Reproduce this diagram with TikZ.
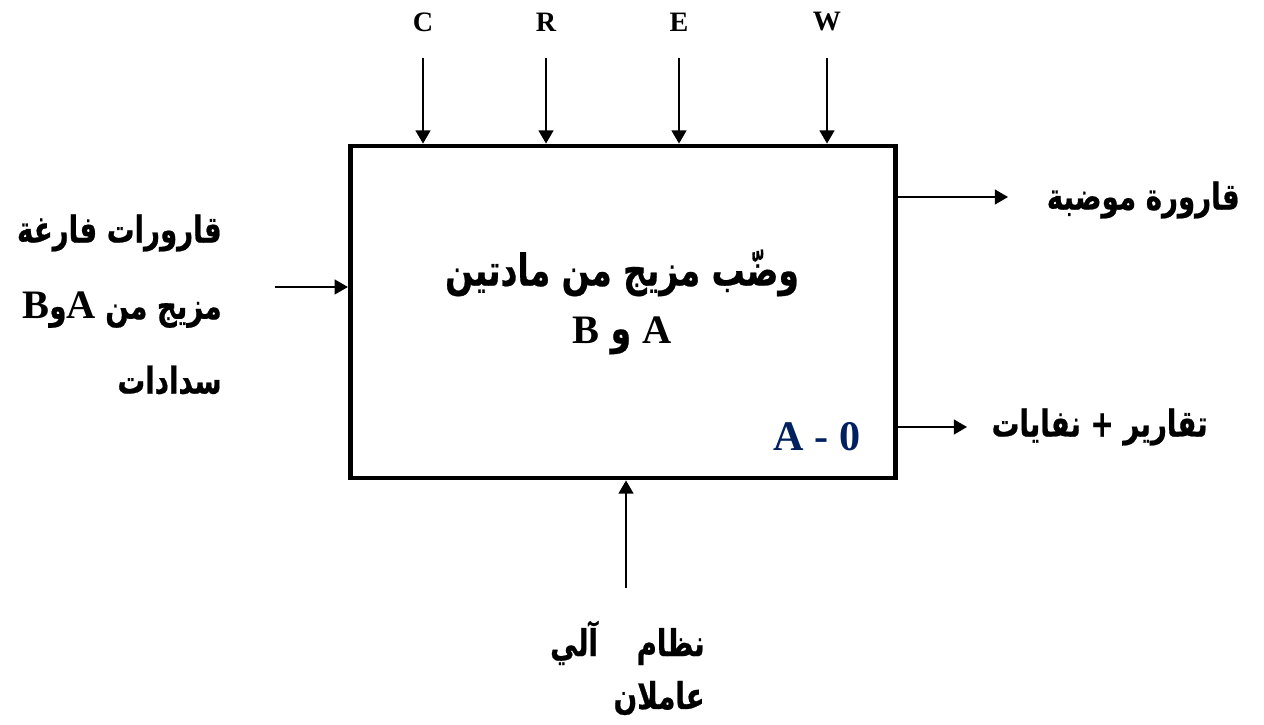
\documentclass[tikz,border=0pt]{standalone}
\usepackage{fontspec}
\setmainfont{Liberation Serif}
\newfontfamily\arabicfont[Script=Arabic,FakeStretch=0.75,BoldFeatures={FakeBold=0.6}]{DejaVu Sans}
\newcommand\latin[1]{{\rmfamily\fontsize{23}{26}\selectfont #1}}
\TeXXeTstate=1
\usetikzlibrary{arrows.meta}
\definecolor{codeblue}{HTML}{002060}

\begin{document}
\begin{tikzpicture}[x=0.02cm,y=-0.02cm,
    flow/.style={-{Triangle[width=8.5pt,length=7.5pt]},line width=0.8pt},
    arlabel/.style={font=\arabicfont\bfseries\fontsize{21}{25}\selectfont,inner sep=0pt},
    letter/.style={font=\bfseries\fontsize{16}{19}\selectfont,inner sep=0pt}]
    \useasboundingbox (0,0) rectangle (1264,724);
    \node[draw,line width=2.8pt,minimum width=10.91cm,minimum height=6.64cm,inner sep=0pt] (proc) at (623,312) {};
    \node[arlabel,font=\arabicfont\bfseries\fontsize{25}{30}\selectfont,align=center] (title) at (622,302)
      {\beginR وضّب مزيج من مادتين\endR\\[3pt] \beginR\latin{A} و \latin{B}\endR};
    \node[font=\bfseries\fontsize{24}{28}\selectfont,text=codeblue,inner sep=0pt] (code) at (817,437) {A - 0};
    \foreach \name/\xpos in {C/423,R/546,E/679,W/827}{
      \node[letter] (\name) at (\xpos,22) {\name};
      \coordinate (\name top) at (\xpos,58);
      \draw[flow] (\name top) -- (\name top |- proc.north);
    }
    \coordinate (input) at (275,287);
    \draw[flow] (input) -- (input -| proc.west);
    \node[arlabel,anchor=east] (in1) at (222,233) {\beginR قارورات فارغة\endR};
    \node[arlabel,anchor=east] (in2) at (222,310) {\beginR مزيج من \latin{A}و\latin{B}\endR};
    \node[arlabel,anchor=east] (in3) at (222,380) {\beginR سدادات\endR};
    \coordinate (output) at (1008,197);
    \draw[flow] (output -| proc.east) -- (output);
    \node[arlabel,anchor=east] (out1) at (1240,200) {\beginR قارورة موضبة\endR};
    \coordinate (waste) at (967,427);
    \draw[flow] (waste -| proc.east) -- (waste);
    \node[arlabel,anchor=east] (out2) at (1208,427) {\beginR تقارير + نفايات\endR};
    \coordinate (mech) at (626,588);
    \draw[flow] (mech) -- (mech |- proc.south);
    \node[arlabel,anchor=east] (mech1) at (705,643) {\beginR نظام\hspace{22pt}آلي\endR};
    \node[arlabel,anchor=east] (mech2) at (705,698) {\beginR عاملان\endR};
\end{tikzpicture}
\end{document}
